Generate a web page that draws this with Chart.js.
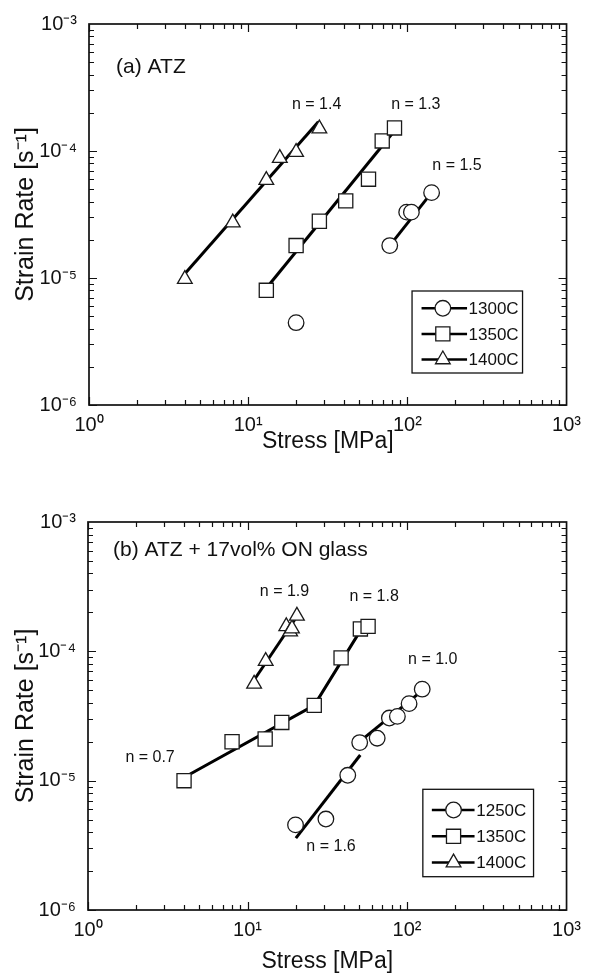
<!DOCTYPE html>
<html>
<head>
<meta charset="utf-8">
<script src="https://cdn.jsdelivr.net/npm/chart.js@4.4.1/dist/chart.umd.min.js"></script>
<style>
html,body{margin:0;padding:0;background:#fff;}
#wrap{position:relative;width:589px;height:975px;}
.pane{position:absolute;left:0;width:589px;}
#paneA{top:0;height:480px;}
#paneB{top:480px;height:495px;}
</style>
</head>
<body>
<div id="wrap">
  <div class="pane" id="paneA"><canvas id="chartA" width="589" height="480"></canvas></div>
  <div class="pane" id="paneB"><canvas id="chartB" width="589" height="495"></canvas></div>
</div>
<script>
/* ===== Data ===== */
const FONT = '"Liberation Sans", Arial, Helvetica, sans-serif';

const X_TICKS = [1, 10, 100, 1000];
const X_TICK_LABELS = ['10⁰', '10¹', '10²', '10³'];
const Y_TICKS = [1e-6, 1e-5, 1e-4, 1e-3];
const Y_TICK_LABELS = ['10⁻⁶', '10⁻⁵', '10⁻⁴', '10⁻³'];

// (a) ATZ
const A_1300_STRESS = [20, 77.5, 99, 106, 142];
const A_1300_RATE   = [4.45e-6, 1.8e-5, 3.3e-5, 3.3e-5, 4.7e-5];
const A_1350_STRESS = [13, 20, 28, 41, 57, 69.5, 83];
const A_1350_RATE   = [8e-6, 1.8e-5, 2.8e-5, 4.05e-5, 6e-5, 1.2e-4, 1.52e-4];
const A_1400_STRESS = [4, 8, 13, 15.8, 20, 28];
const A_1400_RATE   = [9.8e-6, 2.73e-5, 5.9e-5, 8.8e-5, 9.8e-5, 1.5e-4];
// fitted power-law lines (a)
const A_FIT_1300_STRESS = [77.5, 142];
const A_FIT_1300_RATE   = [1.8e-5, 4.7e-5];
const A_FIT_1350_STRESS = [13.7, 84];
const A_FIT_1350_RATE   = [9e-6, 1.47e-4];
const A_FIT_1400_STRESS = [4, 27.6];
const A_FIT_1400_RATE   = [1.08e-5, 1.7e-4];
const A_NOTE_TEXT = ['n = 1.4', 'n = 1.3', 'n = 1.5'];
const A_NOTE_X    = [26.9, 113, 205];
const A_NOTE_Y    = [2.3e-4, 2.3e-4, 7.7e-5];
const A_TITLE = '(a) ATZ';

// (b) ATZ + 17vol% ON glass
const B_1250_STRESS = [20, 31, 42.5, 50.5, 65, 77.5, 87, 103, 124.5];
const B_1250_RATE   = [4.55e-6, 5.05e-6, 1.1e-5, 1.97e-5, 2.13e-5, 3.05e-5, 3.14e-5, 3.94e-5, 5.1e-5];
const B_1350_STRESS = [4, 8, 12.9, 16.4, 26.2, 38.6, 51, 57];
const B_1350_RATE   = [1e-5, 2e-5, 2.1e-5, 2.82e-5, 3.82e-5, 8.9e-5, 1.49e-4, 1.56e-4];
const B_1400_STRESS = [11, 13, 17.5, 18.5, 19, 20.4];
const B_1400_RATE   = [5.6e-5, 8.4e-5, 1.56e-4, 1.42e-4, 1.5e-4, 1.88e-4];
// fitted lines (b)
const B_FIT_1250_LOW_STRESS  = [20.1, 50.9];
const B_FIT_1250_LOW_RATE    = [3.6e-6, 1.58e-5];
const B_FIT_1250_HIGH_STRESS = [52, 122.8];
const B_FIT_1250_HIGH_RATE   = [2.07e-5, 4.9e-5];
const B_FIT_1350_STRESS = [4.29, 26.2, 49.1];
const B_FIT_1350_RATE   = [1.11e-5, 3.82e-5, 1.34e-4];
const B_FIT_1400_STRESS = [11, 20.1];
const B_FIT_1400_RATE   = [6e-5, 1.81e-4];
const B_NOTE_TEXT = ['n = 1.9', 'n = 1.8', 'n = 1.0', 'n = 0.7', 'n = 1.6'];
const B_NOTE_X    = [17.06, 62.2, 145, 2.45, 33.4];
const B_NOTE_Y    = [2.9e-4, 2.66e-4, 8.6e-5, 1.51e-5, 3.1e-6];
const B_TITLE = '(b) ATZ + 17vol% ON glass';

/* ===== Helpers ===== */
function pts(xs, ys){ return xs.map((x,i)=>({x, y:ys[i]})); }
function fitSet(xs, ys){
  return { isFit:true, data:pts(xs,ys), showLine:true, borderColor:'#000', borderWidth:3,
           pointRadius:0, fill:false, order:2 };
}
function markSet(label, xs, ys, style, r){
  return { label, data:pts(xs,ys), showLine:false, pointStyle:style, pointRadius:r, pointHoverRadius:r,
           backgroundColor:'#fff', borderColor:'#1a1a1a', borderWidth:1.3, order:1 };
}

/* ===== Plugins ===== */
const framePlugin = {
  id:'frame',
  afterDraw(chart){
    const {ctx, chartArea:ca, scales:{x,y}} = chart;
    ctx.save();
    ctx.strokeStyle = '#111'; ctx.lineWidth = 1.7;
    ctx.strokeRect(ca.left, ca.top, ca.right-ca.left, ca.bottom-ca.top);
    ctx.lineWidth = 1.2;
    ctx.beginPath();
    for(let d=1; d<1000; d*=10){
      for(let m=1; m<=9; m++){
        const px = Math.round(x.getPixelForValue(d*m))+0.5, L = m===1?8:5;
        ctx.moveTo(px, ca.bottom); ctx.lineTo(px, ca.bottom-L);
        ctx.moveTo(px, ca.top); ctx.lineTo(px, ca.top+L);
      }
    }
    for(let d=1e-6; d<1e-3*0.99; d*=10){
      for(let m=1; m<=9; m++){
        const py = Math.round(y.getPixelForValue(d*m))+0.5, L = m===1?8:5;
        ctx.moveTo(ca.left, py); ctx.lineTo(ca.left+L, py);
        ctx.moveTo(ca.right, py); ctx.lineTo(ca.right-L, py);
      }
    }
    ctx.stroke();
    ctx.restore();
  }
};

const notesPlugin = {
  id:'notes',
  afterDatasetsDraw(chart, args, o){
    const {ctx, scales:{x,y}} = chart;
    ctx.save();
    ctx.fillStyle = '#111'; ctx.textBaseline = 'middle';
    ctx.font = o.titleSize+'px '+FONT; ctx.textAlign = 'left';
    ctx.fillText(o.title, x.getPixelForValue(o.titleX), y.getPixelForValue(o.titleY));
    ctx.font = o.size+'px '+FONT; ctx.textAlign = 'center';
    o.text.forEach((t,i)=> ctx.fillText(t, x.getPixelForValue(o.xs[i]), y.getPixelForValue(o.ys[i])));
    ctx.restore();
  }
};

const legendBoxPlugin = {
  id:'legendBox',
  afterDraw(chart, args, o){
    const {ctx, chartArea:ca} = chart;
    const x0 = ca.right - o.right - o.w, y0 = ca.bottom - o.bottom - o.h;
    ctx.save();
    ctx.fillStyle = '#fff'; ctx.fillRect(x0, y0, o.w, o.h);
    ctx.strokeStyle = '#111'; ctx.lineWidth = 1.3; ctx.strokeRect(x0, y0, o.w, o.h);
    const sets = chart.data.datasets.filter(d=>!d.isFit);
    sets.forEach((d,i)=>{
      const yy = y0 + o.first + i*o.gap;
      ctx.strokeStyle = '#000'; ctx.lineWidth = 2.5;
      ctx.beginPath(); ctx.moveTo(x0+o.lineFrom, yy); ctx.lineTo(x0+o.lineTo, yy); ctx.stroke();
      ctx.fillStyle = '#fff'; ctx.strokeStyle = '#1a1a1a'; ctx.lineWidth = 1.3;
      Chart.helpers.drawPoint(ctx, {pointStyle:d.pointStyle, radius:d.pointRadius, rotation:0, borderWidth:1.3}, x0+o.mark, yy);
      ctx.fillStyle = '#111'; ctx.font = o.size+'px '+FONT; ctx.textAlign = 'left'; ctx.textBaseline = 'middle';
      ctx.fillText(d.label, x0+o.text, yy+1);
    });
    ctx.restore();
  }
};

/* ===== Options ===== */
function makeOptions(c){
  return {
    responsive:false, animation:false, events:[],
    layout:{padding:{top:c.top, right:c.right, bottom:0, left:0}},
    plugins:{
      legend:{display:false}, tooltip:{enabled:false},
      notes:c.notes, legendBox:c.legend
    },
    scales:{
      x:{
        type:'logarithmic', min:1, max:1000,
        afterBuildTicks:s=>{ s.ticks = X_TICKS.map(v=>({value:v})); },
        afterFit:s=>{ s.height = c.xh; },
        grid:{display:false, drawTicks:false}, border:{display:false},
        ticks:{autoSkip:false, maxRotation:0, padding:c.xpad, color:'#111',
               font:{family:FONT, size:20}, callback:(v,i)=>X_TICK_LABELS[i]},
        title:{display:true, text:'Stress [MPa]', color:'#111', font:{family:FONT, size:23},
               padding:{top:0, bottom:c.xtitle}}
      },
      y:{
        type:'logarithmic', min:1e-6, max:1e-3,
        afterBuildTicks:s=>{ s.ticks = Y_TICKS.map(v=>({value:v})); },
        afterFit:s=>{ s.width = c.yw; },
        grid:{display:false, drawTicks:false}, border:{display:false},
        ticks:{autoSkip:false, padding:12, color:'#111',
               font:{family:FONT, size:20}, callback:(v,i)=>Y_TICK_LABELS[i]},
        title:{display:true, text:'Strain Rate [s⁻¹]', color:'#111', font:{family:FONT, size:25},
               padding:{top:11, bottom:0}}
      }
    }
  };
}

/* ===== Charts ===== */
new Chart(document.getElementById('chartA'), {
  type:'scatter',
  data:{datasets:[
    fitSet(A_FIT_1300_STRESS, A_FIT_1300_RATE),
    fitSet(A_FIT_1350_STRESS, A_FIT_1350_RATE),
    fitSet(A_FIT_1400_STRESS, A_FIT_1400_RATE),
    markSet('1300C', A_1300_STRESS, A_1300_RATE, 'circle', 7.8),
    markSet('1350C', A_1350_STRESS, A_1350_RATE, 'rect', 10),
    markSet('1400C', A_1400_STRESS, A_1400_RATE, 'triangle', 8.5)
  ]},
  options:makeOptions({
    top:22, right:18, xh:75, yw:89, xpad:8, xtitle:25,
    notes:{title:A_TITLE, titleX:1.48, titleY:4.6e-4, titleSize:21, size:16,
           text:A_NOTE_TEXT, xs:A_NOTE_X, ys:A_NOTE_Y},
    legend:{right:44, bottom:32, w:110.5, h:82, first:17.3, gap:25.6,
            lineFrom:9.5, lineTo:55, mark:30.8, text:56.5, size:17}
  }),
  plugins:[notesPlugin, framePlugin, legendBoxPlugin]
});

new Chart(document.getElementById('chartB'), {
  type:'scatter',
  data:{datasets:[
    fitSet(B_FIT_1250_LOW_STRESS, B_FIT_1250_LOW_RATE),
    fitSet(B_FIT_1250_HIGH_STRESS, B_FIT_1250_HIGH_RATE),
    fitSet(B_FIT_1350_STRESS, B_FIT_1350_RATE),
    fitSet(B_FIT_1400_STRESS, B_FIT_1400_RATE),
    markSet('1250C', B_1250_STRESS, B_1250_RATE, 'circle', 7.8),
    markSet('1350C', B_1350_STRESS, B_1350_RATE, 'rect', 10),
    markSet('1400C', B_1400_STRESS, B_1400_RATE, 'triangle', 8.5)
  ]},
  options:makeOptions({
    top:42, right:17, xh:65, yw:88, xpad:8, xtitle:0,
    notes:{title:B_TITLE, titleX:1.436, titleY:6.1e-4, titleSize:21, size:16,
           text:B_NOTE_TEXT, xs:B_NOTE_X, ys:B_NOTE_Y},
    legend:{right:33, bottom:33.3, w:110.7, h:87.4, first:20.7, gap:26.3,
            lineFrom:9, lineTo:51.7, mark:30.7, text:53.4, size:17}
  }),
  plugins:[notesPlugin, framePlugin, legendBoxPlugin]
});
</script>
</body>
</html>
